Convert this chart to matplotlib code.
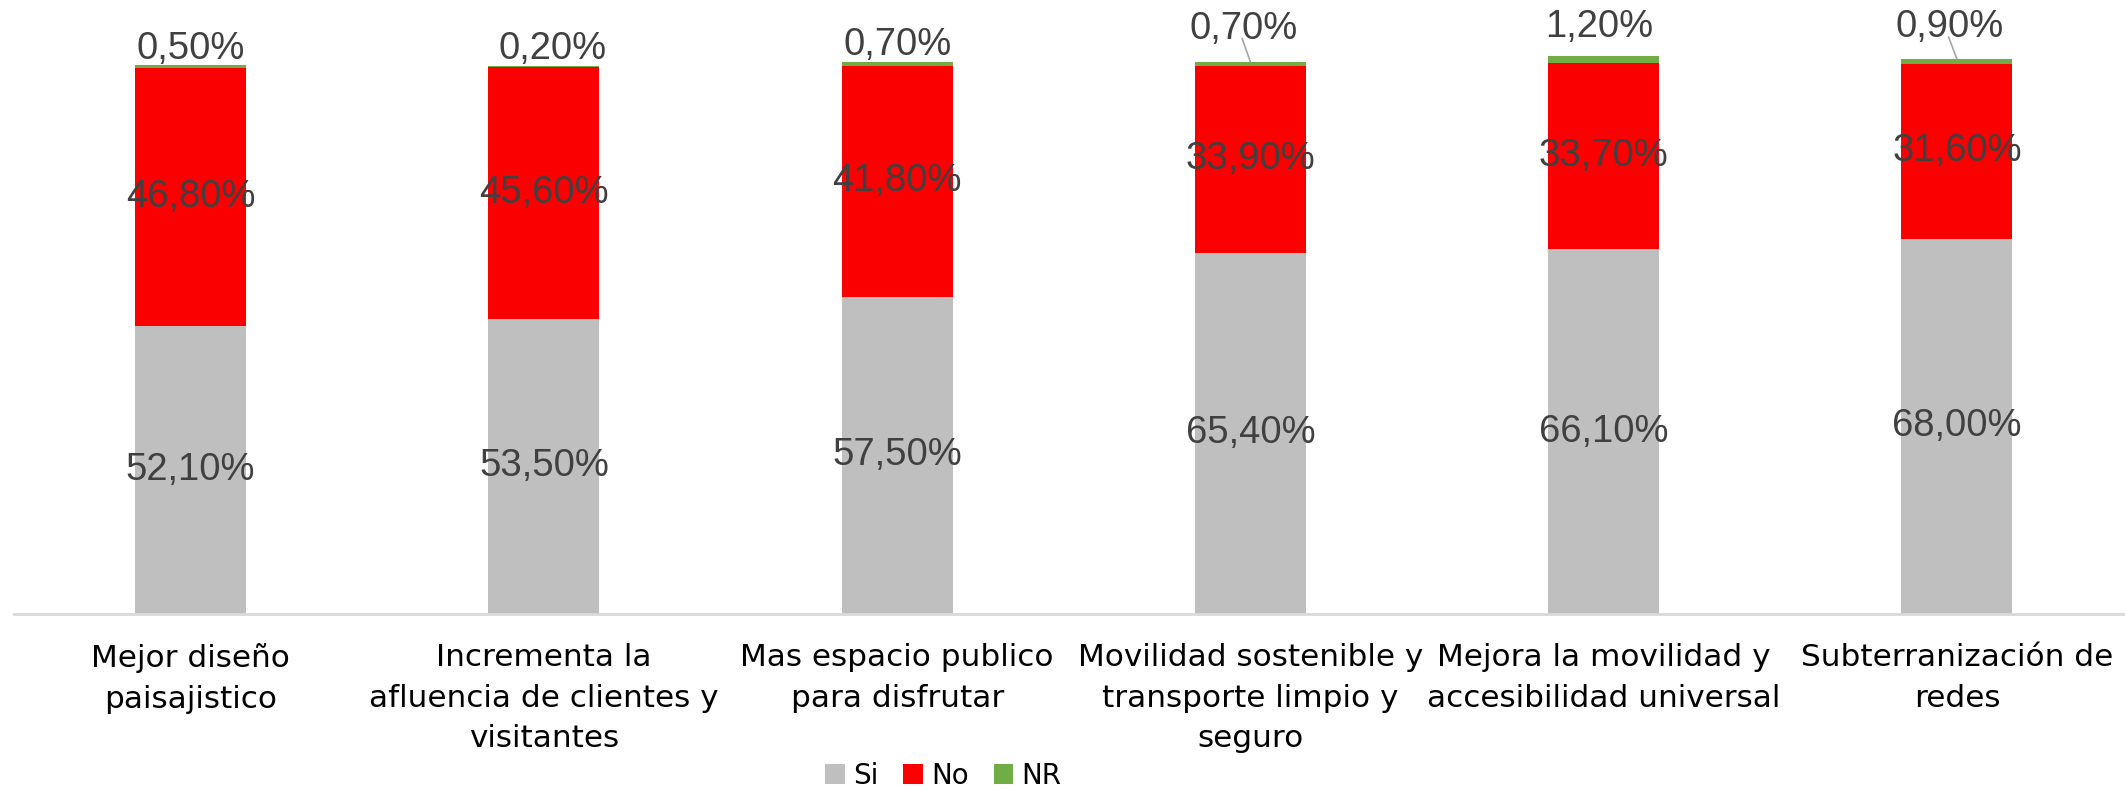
import matplotlib.pyplot as plt
import numpy as np

# Data
categories = ['Mejor diseño\npaisajistico',
              'Incrementa la\nafluencia de clientes y\nvisitantes',
              'Mas espacio publico\npara disfrutar',
              'Movilidad sostenible y\ntransporte limpio y\nseguro',
              'Mejora la movilidad y\naccesibilidad universal',
              'Subterranización de\nredes']
si = [52.1, 53.5, 57.5, 65.4, 66.1, 68.0]
no = [46.8, 45.6, 41.8, 33.9, 33.7, 31.6]
nr = [0.5, 0.2, 0.7, 0.7, 1.2, 0.9]

GRAY = '#BFBFBF'
RED = '#FA0000'
GREEN = '#70AD47'
LABEL = '#404040'


def fmt(v):
    return ('%.2f%%' % v).replace('.', ',')


def plot_graph():
    fig = plt.figure(figsize=(21.25, 7.9), dpi=100)
    ax = fig.add_axes([0.0066, 0.2228, 0.9974, 0.7772])
    x = np.arange(len(categories))
    si_a, no_a, nr_a = np.array(si), np.array(no), np.array(nr)
    w = 0.314

    ax.bar(x, si_a, w, color=GRAY, label='Si')
    ax.bar(x, no_a, w, bottom=si_a, color=RED, label='No')
    ax.bar(x, nr_a, w, bottom=si_a + no_a, color=GREEN, label='NR')

    for i in x:
        ax.text(i, si_a[i] / 2, fmt(si_a[i]), ha='center', va='center',
                fontsize=27.5, color=LABEL, family='Liberation Sans')
        ax.text(i, si_a[i] + no_a[i] / 2, fmt(no_a[i]), ha='center', va='center',
                fontsize=27.5, color=LABEL, family='Liberation Sans')

    # NR callouts (offsets in points from the bar top)
    offsets = [(0, -1), (6, -1), (0, -1), (-5, 11), (-3, 8), (-5, 10)]
    leaders = [False, False, False, True, False, True]
    for i in x:
        top = si_a[i] + no_a[i] + nr_a[i]
        ax.annotate(fmt(nr_a[i]), xy=(i, top), xytext=offsets[i],
                    textcoords='offset points', ha='center', va='bottom',
                    fontsize=27.5, color=LABEL, family='Liberation Sans')
        if leaders[i]:
            ax.annotate('', xy=(i, top), xytext=(offsets[i][0] - 1, offsets[i][1] + 6),
                        textcoords='offset points',
                        arrowprops=dict(arrowstyle='-', color='#A6A6A6', lw=1.2,
                                        shrinkA=0, shrinkB=0))

    ax.set_xlim(-0.5, 5.5)
    ax.set_ylim(0, 111.2)
    for s in ['top', 'right', 'left']:
        ax.spines[s].set_visible(False)
    ax.spines['bottom'].set_color('#D9D9D9')
    ax.spines['bottom'].set_linewidth(2)
    ax.set_yticks([])
    ax.set_xticks(x)
    ax.set_xticklabels(categories, fontsize=22.4, family='DejaVu Sans', linespacing=1.5)
    ax.tick_params(axis='x', length=0, pad=21)

    fig.legend(loc='center', bbox_to_anchor=(0.444, 0.018), ncol=3, frameon=False,
               prop={'family': 'DejaVu Sans', 'size': 20}, handlelength=0.7,
               handleheight=0.7, handletextpad=0.3, columnspacing=0.9)

    fig.savefig('out.png', dpi=100)


def main():
    plot_graph()


if __name__ == "__main__":
    main()
